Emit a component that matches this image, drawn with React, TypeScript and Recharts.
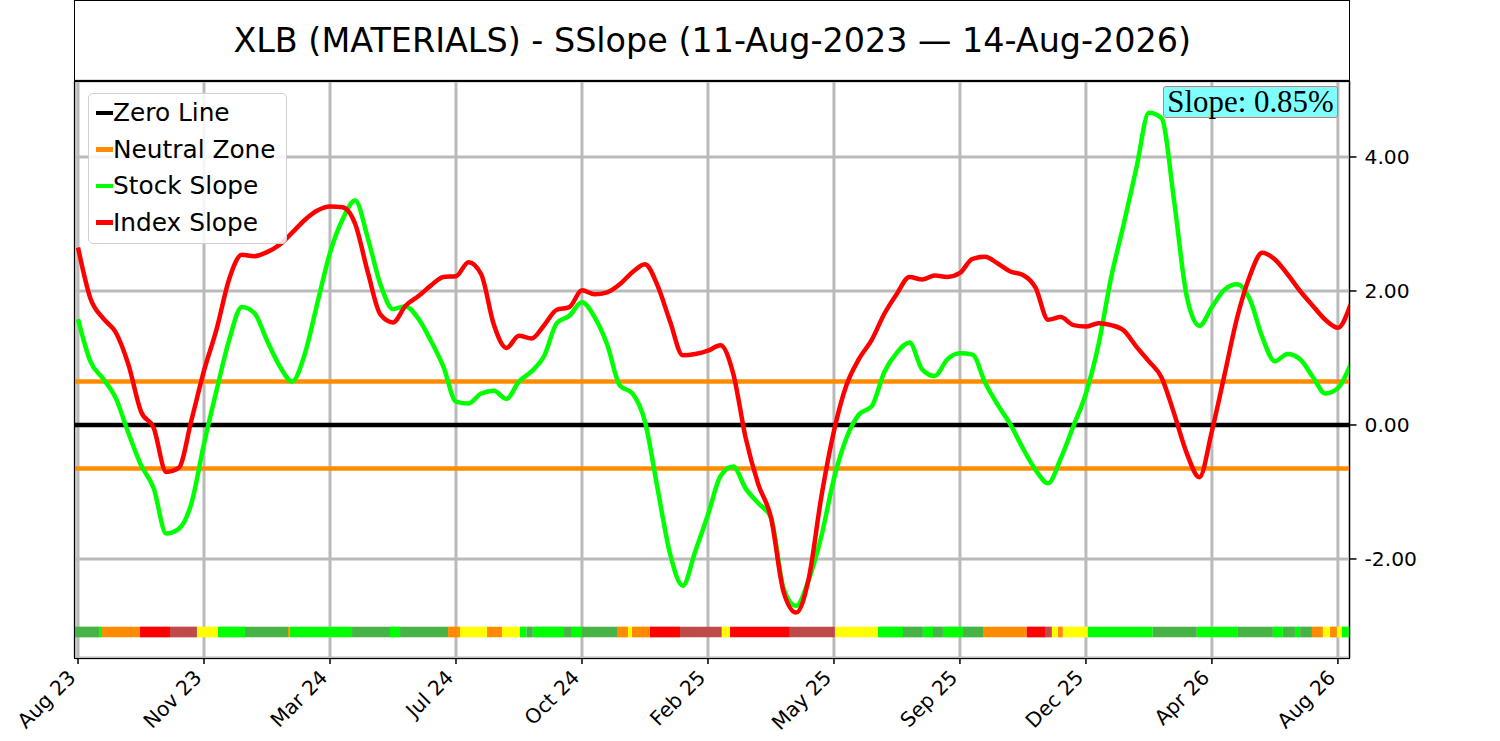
import {
    ComposedChart,
    Line,
    XAxis,
    YAxis,
    CartesianGrid,
    ReferenceLine,
    ReferenceArea,
} from "recharts";

// one sample every ~1/10 of a tick interval (trading-day index scaled)
const stockSlope = [
    1.58, 0.94, 0.69, 0.40, -0.12, -0.60, -0.94, -1.62, -1.55, -1.17,
    -0.28, 0.52, 1.27, 1.76, 1.67, 1.26, 0.88, 0.65, 1.06, 1.82,
    2.57, 3.07, 3.35, 2.79, 2.10, 1.73, 1.77, 1.59, 1.26, 0.87,
    0.35, 0.32, 0.47, 0.51, 0.39, 0.65, 0.80, 1.03, 1.52, 1.63,
    1.83, 1.61, 1.20, 0.59, 0.47, 0.05, -0.95, -1.93, -2.40, -1.88,
    -1.34, -0.76, -0.62, -0.95, -1.17, -1.38, -2.44, -2.70, -2.31, -1.66,
    -0.80, -0.19, 0.16, 0.28, 0.79, 1.08, 1.23, 0.83, 0.73, 0.98,
    1.07, 1.05, 0.63, 0.30, 0.01, -0.35, -0.67, -0.87, -0.50, -0.02,
    0.47, 1.20, 2.20, 3.00, 3.83, 4.66, 4.58, 3.34, 1.92, 1.48,
    1.76, 2.02, 2.10, 1.88, 1.31, 0.95, 1.06, 0.98, 0.72, 0.47,
    0.55, 0.90,
];

const indexSlope = [
    2.65, 1.88, 1.59, 1.38, 0.90, 0.20, -0.04, -0.70, -0.64, 0.07,
    0.81, 1.43, 2.18, 2.54, 2.52, 2.58, 2.69, 2.87, 3.06, 3.20,
    3.26, 3.25, 3.00, 2.28, 1.65, 1.53, 1.78, 1.92, 2.08, 2.21,
    2.22, 2.43, 2.25, 1.50, 1.15, 1.33, 1.29, 1.49, 1.72, 1.76,
    2.01, 1.95, 1.98, 2.10, 2.28, 2.40, 2.08, 1.54, 1.04, 1.06,
    1.11, 1.19, 0.77, -0.20, -0.89, -1.38, -2.49, -2.80, -2.29, -1.07,
    -0.09, 0.60, 0.99, 1.27, 1.66, 1.96, 2.21, 2.17, 2.23, 2.21,
    2.27, 2.48, 2.51, 2.41, 2.29, 2.24, 2.05, 1.57, 1.61, 1.49,
    1.47, 1.52, 1.49, 1.41, 1.17, 0.95, 0.71, 0.17, -0.42, -0.78,
    -0.09, 0.75, 1.60, 2.22, 2.57, 2.47, 2.25, 2.00, 1.78, 1.57,
    1.45, 1.80,
];

const tickIndex = [0, 10, 20, 30, 40, 50, 60, 70, 80, 90, 100];
const tickLabels = [
    "Aug 23", "Nov 23", "Mar 24", "Jul 24", "Oct 24", "Feb 25",
    "May 25", "Sep 25", "Dec 25", "Apr 26", "Aug 26",
];
const yTicks = [-2, 0, 2, 4];

const neutralZone = 0.65;
const lastSlope = 0.85;

// status strip along the bottom
const stripLevel = -3.09;
const stripEnds = [
    1.67, 1.9, 4.92, 7.3, 9.44, 11.11, 13.25, 16.67, 16.8, 21.75,
    24.76, 25.56, 29.37, 30.32, 32.46, 33.65, 35.08, 35.6, 36.1, 38.5,
    39.2, 40, 42.78, 43.65, 43.97, 45.4, 47.78, 51.1, 51.75, 56.5,
    60.08, 63.49, 65.48, 67.06, 67.86, 68.65, 70.24, 71.83, 75.3, 76.75,
    77.3, 77.78, 78.17, 80.16, 85.3, 88.8, 92.06, 94.84, 95.63, 96.59,
    97, 97.94, 98.81, 99.37, 99.92, 100.32, 100.92,
];
const stripStates = [
    "g", "G", "O", "R", "D", "Y", "G", "g", "O", "G",
    "g", "G", "g", "O", "Y", "O", "Y", "G", "g", "G",
    "g", "G", "g", "O", "Y", "O", "R", "D", "Y", "R",
    "D", "Y", "G", "g", "G", "g", "G", "g", "O", "R",
    "D", "Y", "O", "Y", "G", "g", "G", "g", "G", "g",
    "G", "g", "O", "Y", "O", "Y", "G",
];

const stateColors: Record<string, string> = {
    G: "#00ff00",
    g: "#47b347",
    O: "#ff8c00",
    R: "#ff0000",
    D: "#c04949",
    Y: "#ffff00",
};

const legendItems = [
    { name: "Zero Line", color: "#000000" },
    { name: "Neutral Zone", color: "#ff8c00" },
    { name: "Stock Slope", color: "#00ff00" },
    { name: "Index Slope", color: "#ff0000" },
];

const xMin = -0.24;
const xMax = 100.92;

const data = stockSlope.map((s, i) => ({
    i,
    stock: s,
    index: indexSlope[i],
}));

const FONT = "'DejaVu Sans', sans-serif";

function XTick(props: any) {
    const { x, y, payload } = props;
    const label = tickLabels[tickIndex.indexOf(payload.value)];
    return (
        <text
            transform={`translate(${x - 12},${y + 2}) rotate(-45)`}
            textAnchor="end"
            dominantBaseline="hanging"
            fontSize={20.3}
            fontFamily={FONT}
            fill="#000"
        >
            {label}
        </text>
    );
}

function LegendBox() {
    return (
        <div
            style={{
                position: "absolute",
                left: 88,
                top: 93,
                width: 199,
                height: 151,
                background: "rgba(255,255,255,0.85)",
                border: "1.5px solid #d0d0d0",
                borderRadius: 5,
                boxSizing: "border-box",
                fontFamily: FONT,
            }}
        >
            {legendItems.map((item, k) => (
                <div
                    key={item.name}
                    style={{
                        position: "absolute",
                        left: 7,
                        top: 19 + k * 36.5 - 15,
                        height: 30,
                        display: "flex",
                        alignItems: "center",
                        whiteSpace: "nowrap",
                    }}
                >
                    <span
                        style={{
                            display: "inline-block",
                            width: 17,
                            height: 4.5,
                            background: item.color,
                        }}
                    />
                    <span style={{ fontSize: 24.8, color: "#000", lineHeight: "30px" }}>
                        {item.name}
                    </span>
                </div>
            ))}
        </div>
    );
}

export default function App() {
    let start = xMin;
    const strip = stripEnds.map((end, k) => {
        const seg = (
            <ReferenceArea
                key={"s" + k}
                x1={start}
                x2={end}
                y1={stripLevel - 0.08}
                y2={stripLevel + 0.08}
                fill={stateColors[stripStates[k]]}
                fillOpacity={1}
                stroke="none"
                ifOverflow="extendDomain"
            />
        );
        start = end;
        return seg;
    });

    return (
        <div
            style={{
                position: "absolute",
                left: 0,
                top: 0,
                width: 1500,
                height: 741,
                background: "#fff",
                fontFamily: FONT,
            }}
        >
            <ComposedChart
                width={1500}
                height={741}
                data={data}
                margin={{ top: 81, right: 90.5, bottom: 0, left: 75 }}
            >
                <CartesianGrid stroke="#bababa" strokeWidth={3} />

                <XAxis
                    dataKey="i"
                    type="number"
                    domain={[xMin, xMax]}
                    allowDataOverflow
                    ticks={tickIndex}
                    interval={0}
                    height={83}
                    axisLine={false}
                    tickLine={{ stroke: "#000", strokeWidth: 1.5 }}
                    tickSize={6}
                    tickMargin={2}
                    tick={<XTick />}
                />

                <YAxis
                    orientation="right"
                    type="number"
                    domain={[-3.478, 5.134]}
                    allowDataOverflow
                    ticks={yTicks}
                    width={60}
                    axisLine={false}
                    tickLine={{ stroke: "#000", strokeWidth: 1.5 }}
                    tickSize={7}
                    tickMargin={8}
                    tickFormatter={(v: number) => v.toFixed(2)}
                    tick={{ fontSize: 20.3, fill: "#000", fontFamily: FONT }}
                />

                {strip}

                <ReferenceLine y={0} stroke="#000" strokeWidth={4.5} />
                <ReferenceLine y={neutralZone} stroke="#ff8c00" strokeWidth={4.5} />
                <ReferenceLine y={-neutralZone} stroke="#ff8c00" strokeWidth={4.5} />

                <Line
                    type="monotone"
                    dataKey="stock"
                    stroke="#00ff00"
                    strokeWidth={4.5}
                    strokeLinejoin="round"
                    dot={false}
                    isAnimationActive={false}
                />
                <Line
                    type="monotone"
                    dataKey="index"
                    stroke="#ff0000"
                    strokeWidth={4.5}
                    strokeLinejoin="round"
                    dot={false}
                    isAnimationActive={false}
                />
            </ComposedChart>

            <LegendBox />

            {/* plot frame */}
            <div
                style={{
                    position: "absolute",
                    left: 74.25,
                    top: 80.25,
                    width: 1276,
                    height: 578.5,
                    border: "1.5px solid #000",
                    boxSizing: "border-box",
                    pointerEvents: "none",
                }}
            />

            {/* title box */}
            <div
                style={{
                    position: "absolute",
                    left: 74.25,
                    top: 0,
                    width: 1276,
                    height: 81.75,
                    border: "1.5px solid #000",
                    boxSizing: "border-box",
                    display: "flex",
                    alignItems: "center",
                    justifyContent: "center",
                    fontSize: 33.4,
                    color: "#000",
                }}
            >
                XLB (MATERIALS) - SSlope (11-Aug-2023 — 14-Aug-2026)
            </div>

            {/* slope annotation */}
            <div
                style={{
                    position: "absolute",
                    left: 1163,
                    top: 86,
                    width: 175,
                    height: 32,
                    background: "#80ffff",
                    border: "1.5px solid #c08080",
                    borderRadius: 3,
                    boxSizing: "border-box",
                    display: "flex",
                    alignItems: "center",
                    justifyContent: "center",
                    fontFamily: "'Liberation Serif', 'Times New Roman', serif",
                    fontSize: 30.9,
                    color: "#000",
                    whiteSpace: "nowrap",
                }}
            >
                Slope: {lastSlope.toFixed(2)}%
            </div>
        </div>
    );
}
